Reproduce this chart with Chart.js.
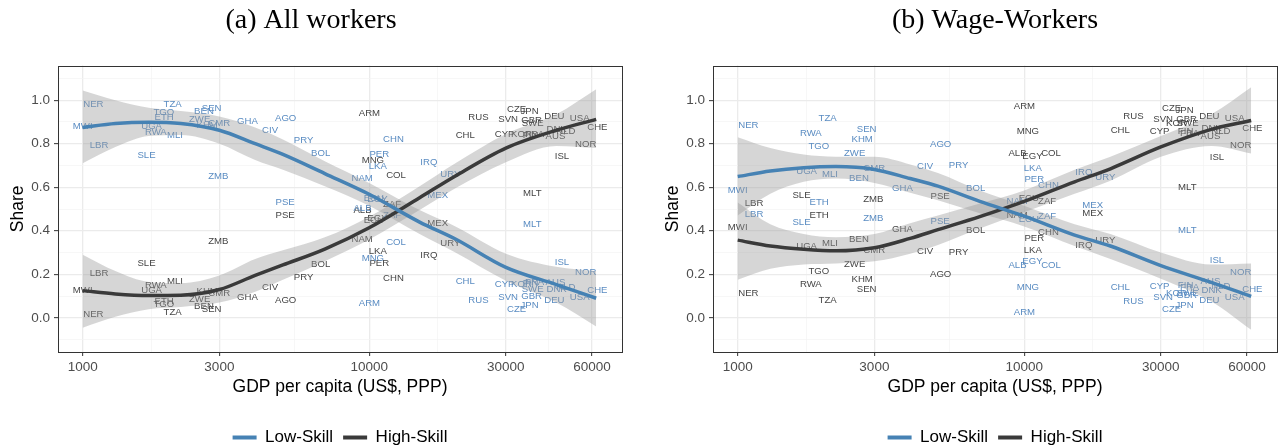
<!DOCTYPE html>
<html>
<head>
<meta charset="utf-8">
<script src="https://cdn.jsdelivr.net/npm/chart.js@4.4.1/dist/chart.umd.min.js"></script>
<style>
  html, body { margin: 0; padding: 0; background: #fff; overflow: hidden; }
  #wrap { position: relative; width: 1279px; height: 447px; overflow: hidden; }
  canvas { position: absolute; top: 0; }
  #chartA { left: 0; }
  #chartB { left: 640px; }
</style>
</head>
<body>
<div id="wrap">
  <canvas id="chartA" width="640" height="456"></canvas>
  <canvas id="chartB" width="639" height="456"></canvas>
</div>
<script>
'use strict';

// Countries and GDP per capita (US$, PPP)
let countries = ['MWI','NER','LBR','SLE','UGA','RWA','TGO','ETH','TZA','MLI','ZWE','BEN','KHM','SEN','ZMB','CMR','GHA','CIV','PSE','AGO','PRY','BOL','NAM','ALB','ARM','MNG','ECU','EGY','LKA','PER','ZAF','CHN','COL','IRQ','MEX','URY','CHL','RUS','CYP','SVN','CZE','KOR','JPN','FIN','GBR','SWE','FRA','MLT','DEU','AUS','DNK','ISL','NLD','USA','NOR','CHE'];
let gdp = [1000,1090,1140,1670,1740,1800,1920,1925,2060,2100,2560,2650,2720,2820,2975,2995,3760,4510,5090,5110,5900,6770,9450,9480,10020,10300,10380,10690,10720,10850,12030,12160,12410,16150,17350,19200,21650,24070,29700,30550,32700,34000,36300,36600,36900,37200,37800,37100,44300,44700,45100,47100,48600,54300,57000,62600];

// (a) All workers
let lowAll = [0.881,0.983,0.794,0.748,0.878,0.853,0.942,0.922,0.979,0.837,0.912,0.947,0.884,0.961,0.652,0.892,0.904,0.860,0.530,0.918,0.814,0.754,0.641,0.502,0.067,0.275,0.550,0.545,0.695,0.751,0.469,0.821,0.347,0.716,0.565,0.660,0.166,0.082,0.156,0.093,0.041,0.156,0.056,0.158,0.098,0.130,0.164,0.428,0.079,0.164,0.133,0.255,0.140,0.092,0.209,0.128];
let highAll = [0.125,0.018,0.206,0.252,0.128,0.148,0.061,0.078,0.023,0.166,0.087,0.054,0.122,0.038,0.350,0.111,0.095,0.141,0.470,0.082,0.188,0.244,0.360,0.496,0.938,0.725,0.450,0.455,0.306,0.252,0.522,0.180,0.655,0.285,0.435,0.342,0.838,0.919,0.844,0.910,0.958,0.844,0.950,0.840,0.906,0.892,0.845,0.573,0.927,0.836,0.867,0.743,0.859,0.916,0.797,0.874];

// (b) Wage-Workers
let lowWage = [0.586,0.886,0.475,0.441,0.673,0.846,0.789,0.530,0.918,0.660,0.757,0.640,0.821,0.867,0.455,0.687,0.596,0.695,0.443,0.798,0.701,0.596,0.533,0.243,0.026,0.139,0.453,0.258,0.687,0.637,0.466,0.609,0.243,0.667,0.518,0.647,0.141,0.075,0.143,0.094,0.041,0.113,0.056,0.148,0.105,0.112,0.140,0.402,0.082,0.168,0.128,0.266,0.143,0.092,0.209,0.130];
let highWage = [0.415,0.113,0.525,0.562,0.327,0.154,0.212,0.472,0.082,0.342,0.246,0.362,0.177,0.133,0.545,0.311,0.406,0.306,0.557,0.200,0.301,0.404,0.469,0.757,0.974,0.858,0.548,0.743,0.312,0.365,0.535,0.393,0.757,0.331,0.480,0.354,0.860,0.927,0.855,0.910,0.962,0.893,0.953,0.855,0.910,0.895,0.846,0.601,0.924,0.834,0.870,0.739,0.856,0.916,0.794,0.870];

// Smoothed fits with confidence bands
let fitX = [1000,1300,1700,2200,3000,4000,5000,7000,10000,15000,20000,30000,45000,62000];
let lowAllFit   = [0.875,0.893,0.899,0.893,0.862,0.800,0.751,0.663,0.568,0.440,0.362,0.232,0.153,0.090];
let lowAllUpper = [1.045,1.000,0.965,0.950,0.925,0.875,0.820,0.720,0.620,0.495,0.420,0.295,0.235,0.215];
let lowAllLower = [0.710,0.785,0.835,0.840,0.800,0.725,0.680,0.605,0.515,0.385,0.300,0.170,0.070,-0.040];
let highAllFit   = [0.125,0.110,0.103,0.104,0.130,0.195,0.243,0.316,0.414,0.552,0.652,0.780,0.862,0.912];
let highAllUpper = [0.290,0.215,0.165,0.160,0.195,0.270,0.310,0.370,0.465,0.605,0.710,0.845,0.935,1.050];
let highAllLower = [-0.045,0.005,0.040,0.050,0.070,0.120,0.175,0.260,0.360,0.495,0.595,0.715,0.790,0.780];

let lowWageFit   = [0.649,0.675,0.690,0.695,0.682,0.640,0.605,0.535,0.467,0.380,0.330,0.240,0.163,0.099];
let lowWageUpper = [0.830,0.780,0.750,0.740,0.740,0.705,0.665,0.585,0.515,0.430,0.385,0.300,0.245,0.250];
let lowWageLower = [0.470,0.570,0.625,0.640,0.620,0.575,0.540,0.480,0.420,0.330,0.270,0.180,0.075,-0.055];
let highWageFit   = [0.357,0.330,0.315,0.308,0.322,0.365,0.405,0.465,0.535,0.625,0.685,0.785,0.866,0.907];
let highWageUpper = [0.530,0.430,0.385,0.370,0.385,0.435,0.470,0.525,0.585,0.680,0.740,0.835,0.935,1.060];
let highWageLower = [0.175,0.225,0.245,0.250,0.260,0.295,0.335,0.410,0.485,0.570,0.630,0.740,0.790,0.755];

// Axis ticks
let xTicks = [1000, 3000, 10000, 30000, 60000];
let xMinor = [1732, 5477, 17321, 42426];
let yTicks = [0, 0.2, 0.4, 0.6, 0.8, 1.0];
let yMinor = [-0.1, 0.1, 0.3, 0.5, 0.7, 0.9, 1.1];

const BLUE = '#4682B4';
const BLUE_TXT = '#5a8cc2';
const DARK = '#3a3a3a';
const DARK_TXT = '#454545';
const BAND = 'rgba(153,153,153,0.4)';
const SANS = '"Liberation Sans", Arial, sans-serif';

function pts(xs, ys) {
  return xs.map((x, i) => ({x: x, y: ys[i]}));
}

function isMajorY(v) {
  return yTicks.some(t => Math.abs(t - v) < 1e-6);
}

// draws the country codes at the point positions, under the bands
const countryLabels = {
  id: 'countryLabels',
  beforeDatasetsDraw(chart) {
    let ctx = chart.ctx;
    ctx.save();
    ctx.font = '9.6px ' + SANS;
    ctx.textAlign = 'center';
    ctx.textBaseline = 'middle';
    chart.data.datasets.forEach((ds, i) => {
      if (!ds.textLabels) return;
      let meta = chart.getDatasetMeta(i);
      ctx.fillStyle = ds.textColor;
      meta.data.forEach((el, j) => {
        ctx.fillText(ds.textLabels[j], el.x, el.y);
      });
    });
    ctx.restore();
  }
};

// panel border (theme_bw)
const panelBorder = {
  id: 'panelBorder',
  afterDraw(chart) {
    let a = chart.chartArea;
    let ctx = chart.ctx;
    ctx.save();
    ctx.strokeStyle = '#333333';
    ctx.lineWidth = 1;
    ctx.strokeRect(Math.round(a.left) + 0.5, Math.round(a.top) + 0.5, Math.round(a.right - a.left), Math.round(a.bottom - a.top));
    ctx.restore();
  }
};

function makeChart(id, title, low, high, lowFit, lowUp, lowLo, highFit, highUp, highLo, pad, titleFull) {
  let ctx = document.getElementById(id);
  // eslint-disable-next-line no-undef
  return new Chart(ctx, {
    type: 'line',
    data: {
      datasets: [{
        data: pts(gdp, high),
        textLabels: countries,
        textColor: DARK_TXT,
        showLine: false,
        pointRadius: 0,
        order: 10
      }, {
        data: pts(gdp, low),
        textLabels: countries,
        textColor: BLUE_TXT,
        showLine: false,
        pointRadius: 0,
        order: 10
      }, {
        data: pts(fitX, lowUp),
        borderWidth: 0,
        pointRadius: 0,
        backgroundColor: BAND,
        fill: '+1',
        cubicInterpolationMode: 'monotone',
        order: 5
      }, {
        data: pts(fitX, lowLo),
        borderWidth: 0,
        pointRadius: 0,
        fill: false,
        cubicInterpolationMode: 'monotone',
        order: 5
      }, {
        data: pts(fitX, highUp),
        borderWidth: 0,
        pointRadius: 0,
        backgroundColor: BAND,
        fill: '+1',
        cubicInterpolationMode: 'monotone',
        order: 5
      }, {
        data: pts(fitX, highLo),
        borderWidth: 0,
        pointRadius: 0,
        fill: false,
        cubicInterpolationMode: 'monotone',
        order: 5
      }, {
        label: 'Low-Skill',
        inLegend: true,
        data: pts(fitX, lowFit),
        borderColor: BLUE,
        borderWidth: 3.5,
        pointRadius: 0,
        fill: false,
        cubicInterpolationMode: 'monotone',
        order: 1
      }, {
        label: 'High-Skill',
        inLegend: true,
        data: pts(fitX, highFit),
        borderColor: DARK,
        borderWidth: 3.5,
        pointRadius: 0,
        fill: false,
        cubicInterpolationMode: 'monotone',
        order: 1
      }]
    },
    options: {
      responsive: false,
      animation: false,
      events: [],
      layout: { padding: pad },
      scales: {
        x: {
          type: 'logarithmic',
          min: 820,
          max: 76300,
          afterBuildTicks: s => {
            s.ticks = xTicks.concat(xMinor).sort((a, b) => a - b).map(v => ({value: v}));
          },
          afterFit: s => { s.height = 67; },
          ticks: {
            autoSkip: false,
            maxRotation: 0,
            padding: 3,
            color: '#4d4d4d',
            font: { family: SANS, size: 13.5 },
            callback: v => (xTicks.includes(v) ? String(v) : '')
          },
          grid: {
            color: c => (xTicks.includes(c.tick.value) ? '#ebebeb' : '#f3f3f3'),
            lineWidth: c => (xTicks.includes(c.tick.value) ? 1.3 : 0.7),
            tickColor: c => (xTicks.includes(c.tick.value) ? '#333333' : 'rgba(0,0,0,0)'),
            tickLength: 4,
            tickWidth: 1
          },
          border: { display: false },
          title: {
            display: true,
            text: 'GDP per capita (US$, PPP)',
            color: '#000',
            font: { family: SANS, size: 17.5 },
            padding: { top: 2, bottom: 21 }
          }
        },
        y: {
          min: -0.157,
          max: 1.159,
          afterBuildTicks: s => {
            s.ticks = yTicks.concat(yMinor).sort((a, b) => a - b).map(v => ({value: v}));
          },
          afterFit: s => { s.width = 58; },
          ticks: {
            padding: 4,
            color: '#4d4d4d',
            font: { family: SANS, size: 13.5 },
            callback: v => (isMajorY(v) ? v.toFixed(1) : '')
          },
          grid: {
            color: c => (isMajorY(c.tick.value) ? '#ebebeb' : '#f3f3f3'),
            lineWidth: c => (isMajorY(c.tick.value) ? 1.3 : 0.7),
            tickColor: c => (isMajorY(c.tick.value) ? '#333333' : 'rgba(0,0,0,0)'),
            tickLength: 4,
            tickWidth: 1
          },
          border: { display: false },
          title: {
            display: true,
            text: 'Share',
            color: '#000',
            font: { family: SANS, size: 17.5 },
            padding: { top: 8, bottom: 0 }
          }
        }
      },
      plugins: {
        title: {
          display: true,
          text: title,
          fullSize: titleFull,
          color: '#000',
          font: { family: '"Liberation Serif", "DejaVu Serif", serif', size: 28, weight: 'normal' },
          padding: { top: 4, bottom: 28 }
        },
        legend: {
          position: 'bottom',
          fullSize: false,
          labels: {
            usePointStyle: true,
            pointStyleWidth: 24,
            padding: 10,
            color: '#1a1a1a',
            font: { family: SANS, size: 17 },
            generateLabels: ch => ch.data.datasets
              .map((ds, i) => ({ds: ds, i: i}))
              .filter(o => o.ds.inLegend)
              .map(o => ({
                text: o.ds.label,
                strokeStyle: o.ds.borderColor,
                fillStyle: o.ds.borderColor,
                lineWidth: 4,
                pointStyle: 'line',
                datasetIndex: o.i,
                hidden: false
              }))
          }
        },
        tooltip: { enabled: false }
      }
    },
    plugins: [countryLabels, panelBorder]
  });
}

makeChart('chartA', '(a) All workers', lowAll, highAll,
  lowAllFit, lowAllUpper, lowAllLower, highAllFit, highAllUpper, highAllLower,
  { left: 0, right: 18, top: 0, bottom: 0 }, true);

makeChart('chartB', '(b) Wage-Workers', lowWage, highWage,
  lowWageFit, lowWageUpper, lowWageLower, highWageFit, highWageUpper, highWageLower,
  { left: 15, right: 2, top: 0, bottom: 0 }, false);
</script>
</body>
</html>
